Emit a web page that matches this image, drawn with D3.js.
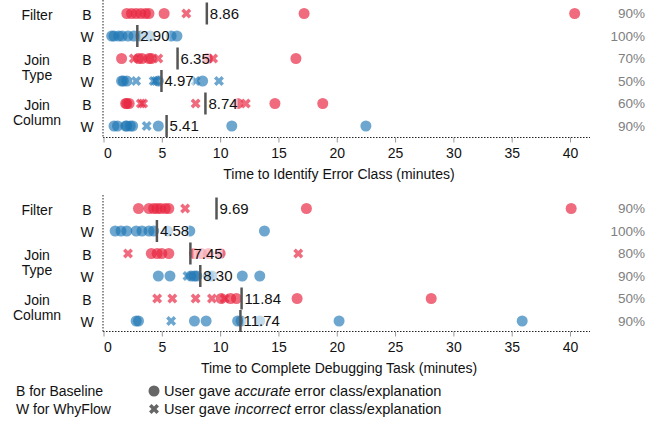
<!DOCTYPE html>
<html><head><meta charset="utf-8">
<script src="https://cdn.jsdelivr.net/npm/d3@7/dist/d3.min.js"></script>
<style>body{margin:0;background:#fff}svg{display:block;font-family:"Liberation Sans",Arial,sans-serif}</style>
</head><body><svg id="c" width="668" height="423"></svg>
<script>
const tasks = ["Filter", "Join Type", "Join Column"];
const tools = ["B", "W"];
const ticks = [0, 5, 10, 15, 20, 25, 30, 35, 40];

// Panel 1: Time to identify error class
const identifyAccurate = [
  [2.0, 2.4, 2.8, 3.2, 3.6, 3.9, 5.2, 17.2, 40.4],
  [0.7, 0.9, 1.3, 1.6, 2.1, 2.6, 3.2, 4.0, 5.8, 6.3],
  [1.55, 3.0, 3.3, 3.9, 4.1, 8.9, 16.5],
  [1.55, 1.7, 2.0, 4.7, 8.5],
  [1.9, 2.0, 2.2, 11.5, 14.7, 18.8],
  [0.9, 1.2, 1.9, 2.0, 2.3, 2.5, 4.7, 11.0, 22.5]
];
const identifyIncorrect = [
  [7.1],
  [],
  [2.6, 4.7, 9.4],
  [2.8, 4.3, 4.5, 7.9, 9.9],
  [3.2, 3.4, 7.9, 12.2],
  [3.7]
];
const identifyMeans = [8.86, 2.90, 6.35, 4.97, 8.74, 5.41];
const identifyAccuracy = ["90%", "100%", "70%", "50%", "60%", "90%"];

// Panel 2: Time to complete debugging task
const completeAccurate = [
  [3.0, 3.9, 4.3, 4.6, 4.9, 5.3, 5.6, 17.4, 40.1],
  [1.0, 1.5, 2.0, 2.8, 3.3, 3.9, 4.3, 5.5, 7.4, 13.8],
  [4.1, 4.6, 5.0, 5.6, 7.8, 8.4, 9.0, 10.0],
  [4.7, 5.7, 7.5, 7.8, 8.0, 9.0, 9.3, 11.9, 13.4],
  [10.1, 10.9, 11.4, 16.6, 28.1],
  [2.8, 3.0, 7.8, 8.8, 11.5, 11.8, 13.4, 20.2, 35.9]
];
const completeIncorrect = [
  [7.0],
  [],
  [2.1, 16.7],
  [7.2],
  [4.6, 5.9, 7.9, 9.3, 10.4],
  [5.8]
];
const completeMeans = [9.69, 4.58, 7.45, 8.30, 11.84, 11.74];
const completeAccuracy = ["90%", "100%", "80%", "90%", "50%", "90%"];

const titles = ["Time to Identify Error Class (minutes)", "Time to Complete Debugging Task (minutes)"];
const legendTools = ["B for Baseline", "W for WhyFlow"];

const svg = d3.select("#c");
const x = d3.scaleLinear().domain([0, 40]).range([103.5, 570]);
const colors = {B: "#e8253f", W: "#1f77b4"};
const crossPath = d3.symbol().type(d3.symbolCross).size(62)();

const panels = [
  {acc: identifyAccurate, inc: identifyIncorrect, means: identifyMeans, pct: identifyAccuracy, y0: 13.5, y1: 126, axisY: 137.5, top: 0, title: titles[0]},
  {acc: completeAccurate, inc: completeIncorrect, means: completeMeans, pct: completeAccuracy, y0: 208.5, y1: 321, axisY: 331.5, top: 195, title: titles[1]}
];

const rows = [];
tasks.forEach(t => tools.forEach(g => rows.push({task: t, tool: g})));

panels.forEach(p => {
  const y = d3.scalePoint().domain(d3.range(rows.length)).range([p.y0, p.y1]);
  const g = svg.append("g");

  // category labels
  tasks.forEach((t, ti) => {
    const words = t.split(" ");
    const yb = y(ti * 2), yw = y(ti * 2 + 1);
    g.append("text").attr("x", 37).attr("y", yb + 1.5).attr("dy", "0.35em").attr("text-anchor", "middle")
      .attr("font-size", 14).attr("fill", "#111").text(words[0]);
    if (words.length > 1) {
      g.append("text").attr("x", 37).attr("y", yw - 6).attr("dy", "0.35em").attr("text-anchor", "middle")
        .attr("font-size", 14).attr("fill", "#111").text(words[1]);
    }
  });
  rows.forEach((r, i) => {
    g.append("text").attr("x", 87).attr("y", y(i) + (r.tool === "B" ? 1.5 : 1)).attr("dy", "0.35em").attr("text-anchor", "middle")
      .attr("font-size", 14).attr("fill", "#111").text(r.tool);
    g.append("text").attr("x", 645).attr("y", y(i)).attr("dy", "0.35em").attr("text-anchor", "end")
      .attr("font-size", 13.5).attr("fill", "#808080").text(p.pct[i]);
  });

  // axes (dotted)
  g.append("line").attr("x1", 103).attr("x2", 103).attr("y1", p.top).attr("y2", p.axisY)
    .attr("stroke", "#222").attr("stroke-width", 1).attr("stroke-dasharray", "1.5,1.5");
  g.append("line").attr("x1", 103).attr("x2", 590).attr("y1", p.axisY).attr("y2", p.axisY)
    .attr("stroke", "#222").attr("stroke-width", 1).attr("stroke-dasharray", "1.5,1.5");
  const ax = g.append("g").attr("transform", `translate(0,${p.axisY})`)
    .call(d3.axisBottom(x).tickValues(ticks).tickSize(5).tickPadding(6).tickFormat(d3.format("d")));
  ax.select(".domain").remove();
  ax.selectAll(".tick line").attr("stroke", "#999");
  ax.selectAll(".tick text").attr("font-size", 14).attr("fill", "#111").attr("font-family", "Liberation Sans, Arial, sans-serif")
    .attr("dx", d => d === 0 ? 4 : 0);
  g.append("text").attr("x", 339).attr("y", p.axisY + 41).attr("text-anchor", "middle")
    .attr("font-size", 14).attr("fill", "#111").text(p.title);

  // points
  rows.forEach((r, i) => {
    const c = colors[r.tool];
    g.selectAll(null).data(p.acc[i]).enter().append("circle")
      .attr("cx", d => x(d)).attr("cy", y(i)).attr("r", 5.5)
      .attr("fill", c).attr("fill-opacity", r.tool === "B" ? 0.68 : 0.65);
    g.selectAll(null).data(p.inc[i]).enter().append("path")
      .attr("d", crossPath)
      .attr("transform", d => `translate(${x(d)},${y(i)}) rotate(45)`)
      .attr("fill", c).attr("fill-opacity", r.tool === "B" ? 0.68 : 0.65);
  });

  // means
  rows.forEach((r, i) => {
    const mx = x(p.means[i]);
    const label = p.means[i].toFixed(2);
    const t = g.append("text").attr("x", mx + 3).attr("y", y(i)).attr("dy", "0.36em")
      .attr("font-size", 15).attr("fill", "#111").text(label);
    const bb = t.node().getBBox();
    g.insert("rect", () => t.node()).attr("x", bb.x).attr("y", bb.y + 1).attr("width", bb.width).attr("height", bb.height - 2)
      .attr("fill", "#fff").attr("fill-opacity", 0.6);
    g.append("line").attr("x1", mx).attr("x2", mx).attr("y1", y(i) - 11).attr("y2", y(i) + 11)
      .attr("stroke", "#555").attr("stroke-width", 2.5);
  });
});

// legend
const lg = svg.append("g");
legendTools.forEach((t, i) => {
  lg.append("text").attr("x", 16).attr("y", 391 + i * 18).attr("dy", "0.35em")
    .attr("font-size", 14).attr("fill", "#111").text(t);
});
lg.append("circle").attr("cx", 154).attr("cy", 391).attr("r", 5.5).attr("fill", "#666");
lg.append("path").attr("d", crossPath).attr("transform", "translate(154,409) rotate(45)").attr("fill", "#666");
const l1 = lg.append("text").attr("x", 164).attr("y", 391).attr("dy", "0.35em").attr("font-size", 14.6).attr("fill", "#111");
l1.append("tspan").text("User gave ");
l1.append("tspan").attr("font-style", "italic").text("accurate");
l1.append("tspan").text(" error class/explanation");
const l2 = lg.append("text").attr("x", 164).attr("y", 409).attr("dy", "0.35em").attr("font-size", 14.6).attr("fill", "#111");
l2.append("tspan").text("User gave ");
l2.append("tspan").attr("font-style", "italic").text("incorrect");
l2.append("tspan").text(" error class/explanation");
</script></body></html>
